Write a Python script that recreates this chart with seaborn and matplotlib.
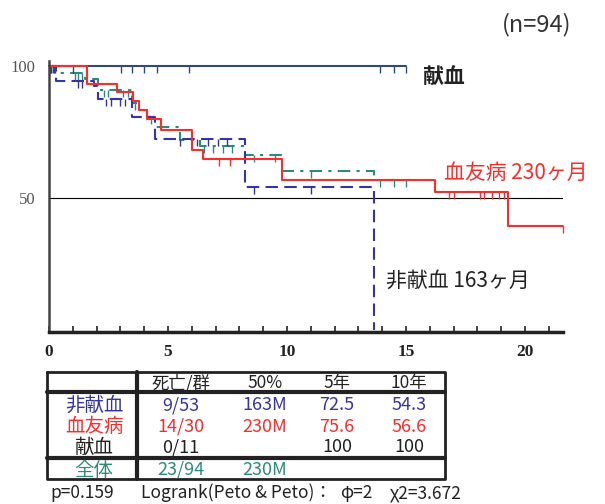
import numpy as np
import pandas as pd
import matplotlib
matplotlib.use("Agg")
import matplotlib.pyplot as plt
import seaborn as sns

sns.set_style("white")
plt.rcParams['font.family'] = ['Noto Sans CJK JP', 'DejaVu Sans']

# --- survival steps (years, %) ---
red_t = [0, 1.6, 2.87, 3.55, 3.8, 4.1, 4.7, 6.0, 6.47, 9.8, 16.2, 19.3, 21.6]
red_s = [100, 93.3, 90.0, 86.7, 83.3, 80.0, 75.6, 68.2, 64.7, 56.6, 52.4, 39.4, 39.4]
red_c = [7.16, 7.6, 16.8, 17.0, 18.1, 18.3, 18.6, 18.9, 19.1, 21.6]

blue_t = [0, 0.3, 1.9, 2.07, 3.5, 4.45, 8.25, 13.65, 13.65]
blue_s = [100, 94.3, 92.5, 87.5, 80.8, 72.5, 54.3, 54.3, 0]
blue_c = [0.1, 1.2, 1.4, 2.4, 2.6, 3.0, 3.2, 5.5, 6.2, 6.7, 7.1, 7.5, 8.6, 11.0]

teal_t = [0, 0.25, 1.5, 2.07, 3.5, 3.8, 4.1, 4.46, 5.5, 6.35, 8.25, 9.8, 13.65, 15.0]
teal_s = [100, 97.5, 95.0, 90.9, 86.0, 83.3, 80.8, 76.9, 72.0, 69.7, 66.3, 60.2, 56.6, 56.6]
teal_c = [1.1, 1.2, 1.4, 2.3, 2.5, 3.1, 3.3, 3.6, 4.3, 6.5, 6.9, 7.3, 7.7, 8.6, 9.5, 11.0, 13.9, 14.5, 15.0]

don_t = [0, 15.0]
don_s = [100, 100]
don_c = [0.05, 0.1, 0.15, 0.2, 0.25, 1.0, 3.03, 3.48, 4.0, 4.53, 5.9, 13.9, 14.5, 15.0]

# --- table contents ---
tab_header = ['死亡/群', '50%', '5年', '10年']
tab_groups = ['非献血', '血友病', '献血', '全体']
tab_rows = [['9/53', '163M', '72.5', '54.3'],
            ['14/30', '230M', '75.6', '56.6'],
            ['0/11', '', '100', '100'],
            ['23/94', '230M', '', '']]

C_BLUE = '#3535a0'
C_RED = '#ff2a2a'
C_TEAL = '#2a8a7c'
C_DON = '#2f4a7a'
row_colors = [C_BLUE, C_RED, '#222222', C_TEAL]

fig = plt.figure(figsize=(6.05, 5.04), dpi=100)
ax = fig.add_axes([0.081, 0.3413, 0.8496, 0.5383])

curves = [
    (teal_t, teal_s, teal_c, C_TEAL, (0, (6, 3, 1.5, 3))),
    (blue_t, blue_s, blue_c, C_BLUE, (0, (6, 3))),
    (don_t, don_s, don_c, C_DON, '-'),
    (red_t, red_s, red_c, C_RED, '-'),
]
for t, s, cens, col, ls in curves:
    df = pd.DataFrame({'t': t, 's': s})
    sns.lineplot(data=df, x='t', y='s', ax=ax, color=col, linestyle=ls,
                 drawstyle='steps-post', estimator=None, sort=False,
                 linewidth=1.5, clip_on=False)
    t_arr = np.array(t)
    idx = np.searchsorted(t_arr, cens, side='right') - 1
    ax.plot(cens, np.array(s)[idx], linestyle='none', marker=3, ms=5,
            mew=1.0, color=col, clip_on=False)

ax.axhline(50, color='black', linewidth=0.8, zorder=0)

ax.set_xlim(0, 21.6)
ax.set_ylim(-0.8, 102)
ax.set_xlabel('')
ax.set_ylabel('')
for side in ['top', 'right']:
    ax.spines[side].set_visible(False)
ax.spines['left'].set_linewidth(1.8)
ax.spines['left'].set_color('#444444')
ax.spines['bottom'].set_linewidth(2.5)
ax.spines['bottom'].set_color('#222222')

ax.set_xticks([0, 5, 10, 15, 20])
ax.set_xticks(range(1, 22), minor=True)
ax.set_xticklabels(['0', '5', '10', '15', '20'], family='Liberation Serif',
                   fontweight='bold', fontsize=12.5, color='#222222')
ax.tick_params(axis='x', which='both', direction='in', length=4, width=1.2,
               color='#222222', pad=9, bottom=True)
ax.set_yticks([50, 100])
ax.set_yticklabels(['50', '100'], family='Liberation Serif', fontsize=12,
                   color='#555555')
ax.tick_params(axis='y', length=0, pad=10)

# curve labels
ax.text(15.7, 95.5, '献血', fontsize=15, fontweight='bold', color='#222222', va='center')
ax.text(16.6, 59.5, '血友病 230ヶ月', fontsize=15, color=C_RED, va='center')
ax.text(14.15, 18.5, '非献血 163ヶ月', fontsize=15, color='#222222', va='center')
fig.text(537 / 605, 1 - 25 / 504, '(n=94)', fontsize=17, color='#333333',
         ha='center', va='center')

# --- summary table in pixel coordinates ---
tb = fig.add_axes([0, 0, 1, 1])
tb.set_xlim(0, 605)
tb.set_ylim(504, 0)
tb.axis('off')
L, R, T, B = 47, 445, 372, 479
tb.plot([L, R, R, L, L], [T, T, B, B, T], color='#222222', lw=2)
tb.plot([L, R], [392, 392], color='#222222', lw=3)
tb.plot([L, R], [458, 458], color='#222222', lw=3)
tb.plot([137, 137], [T, B], color='#222222', lw=3)

col_x = [181, 265, 337, 409]
row_y = [405, 426.5, 447.5, 470]
for x, h in zip(col_x, tab_header):
    tb.text(x, 383, h, fontsize=12.5, ha='center', va='center', color='#222222')
for y, g, vals, col in zip(row_y, tab_groups, tab_rows, row_colors):
    tb.text(94, y, g, fontsize=14, ha='center', va='center', color=col)
    for x, v in zip(col_x, vals):
        tb.text(x, y, v, fontsize=13, ha='center', va='center', color=col)

tb.text(50, 493, 'p=0.159', fontsize=12.5, ha='left', va='center', color='#222222')
tb.text(141, 493, 'Logrank(Peto & Peto)：', fontsize=12.5,
        ha='left', va='center', color='#222222')
tb.text(340, 493, 'φ=2', fontsize=12.5, ha='left', va='center', color='#222222')
tb.text(390, 493, 'χ2=3.672', fontsize=12.5, ha='left', va='center', color='#222222')

fig.savefig('out.png', dpi=100)
